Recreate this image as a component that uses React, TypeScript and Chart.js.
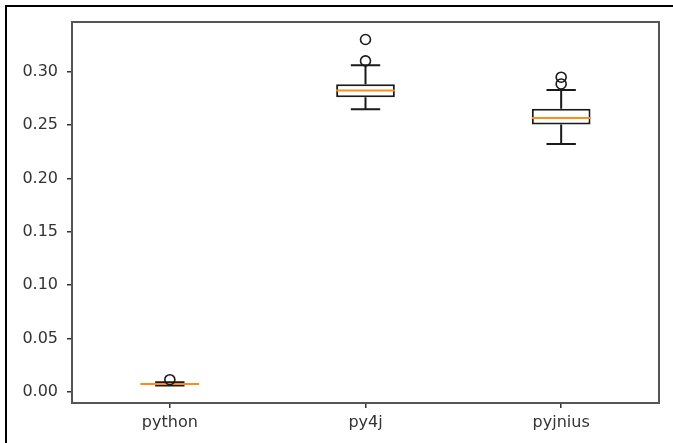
import React, { useEffect, useRef } from "react";
import { Chart, registerables } from "chart.js";

Chart.register(...registerables);

const categories = ["python", "py4j", "pyjnius"];
const q1 = [0.0068, 0.276, 0.2505];
const median = [0.0075, 0.2823, 0.2566];
const q3 = [0.0082, 0.2882, 0.2652];
const whiskerLow = [0.006, 0.2647, 0.2322];
const whiskerHigh = [0.0092, 0.306, 0.2828];
const outlierCat = ["python", "py4j", "py4j", "pyjnius", "pyjnius"];
const outlierVal = [0.0115, 0.33, 0.31, 0.2947, 0.2884];
const yTicks = [0, 0.05, 0.1, 0.15, 0.2, 0.25, 0.3];
const yMin = -0.0103;
const yMax = 0.3464;

const FONT = "'DejaVu Sans', sans-serif";

const boxPlugin = {
  id: "boxDetails",
  afterDatasetDraw(chart: any, args: any) {
    if (args.index !== 1) return;
    const ctx = chart.ctx;
    const x = chart.scales.x;
    const y = chart.scales.y;
    const unit = x.getPixelForValue(1) - x.getPixelForValue(0);
    const capHalf = unit * 0.075;
    const boxHalf = unit * 0.15;
    ctx.save();
    for (let i = 0; i < categories.length; i++) {
      const cx = x.getPixelForValue(i);
      ctx.strokeStyle = "#1a1a1a";
      ctx.lineWidth = 2;
      ctx.beginPath();
      ctx.moveTo(cx, y.getPixelForValue(q3[i]));
      ctx.lineTo(cx, y.getPixelForValue(whiskerHigh[i]));
      ctx.moveTo(cx, y.getPixelForValue(q1[i]));
      ctx.lineTo(cx, y.getPixelForValue(whiskerLow[i]));
      ctx.moveTo(cx - capHalf, y.getPixelForValue(whiskerHigh[i]));
      ctx.lineTo(cx + capHalf, y.getPixelForValue(whiskerHigh[i]));
      ctx.moveTo(cx - capHalf, y.getPixelForValue(whiskerLow[i]));
      ctx.lineTo(cx + capHalf, y.getPixelForValue(whiskerLow[i]));
      ctx.stroke();
      ctx.strokeStyle = "#ff8c1a";
      ctx.lineWidth = 2;
      ctx.beginPath();
      ctx.moveTo(cx - boxHalf, y.getPixelForValue(median[i]));
      ctx.lineTo(cx + boxHalf, y.getPixelForValue(median[i]));
      ctx.stroke();
    }
    ctx.restore();
  },
  afterDraw(chart: any) {
    const ctx = chart.ctx;
    const a = chart.chartArea;
    ctx.save();
    ctx.strokeStyle = "#555";
    ctx.lineWidth = 2;
    ctx.strokeRect(a.left, a.top, a.right - a.left, a.bottom - a.top);
    ctx.fillStyle = "#000";
    ctx.fillRect(5, 5, chart.width, 2);
    ctx.fillRect(5, 5, 2, chart.height);
    ctx.restore();
  },
};

export default function App() {
  const ref = useRef<HTMLCanvasElement>(null);
  useEffect(() => {
    if (!ref.current) return;
    const chart = new Chart(ref.current, {
      type: "bar",
      data: {
        labels: categories,
        datasets: [
          {
            type: "line",
            data: outlierCat.map((c, i) => ({ x: c, y: outlierVal[i] })),
            showLine: false,
            pointStyle: "circle",
            pointRadius: 5,
            pointBorderColor: "#1a1a1a",
            pointBackgroundColor: "rgba(0,0,0,0)",
            pointBorderWidth: 1.6,
          } as any,
          {
            type: "bar",
            data: categories.map((_, i) => [q1[i], q3[i]]),
            backgroundColor: "#fff",
            borderColor: "#1a1a1a",
            borderWidth: 2,
            borderSkipped: false,
            barPercentage: 0.3,
            categoryPercentage: 1,
          } as any,
        ],
      },
      options: {
        responsive: false,
        animation: false,
        layout: { padding: { top: 22, right: 14, left: 0, bottom: 0 } },
        plugins: { legend: { display: false }, tooltip: { enabled: false } },
        scales: {
          x: {
            type: "category",
            offset: true,
            border: { display: false },
            grid: {
              drawOnChartArea: false,
              drawTicks: true,
              tickLength: 5,
              color: "#333",
              lineWidth: 1.5,
              offset: false,
            },
            ticks: { color: "#333", font: { family: FONT, size: 16 }, padding: 5 },
            afterFit(scale: any) {
              scale.height = 40;
            },
          },
          y: {
            type: "linear",
            min: yMin,
            max: yMax,
            border: { display: false },
            grid: { drawOnChartArea: false, drawTicks: true, tickLength: 5, color: "#333", lineWidth: 1.5 },
            ticks: {
              color: "#333",
              font: { family: FONT, size: 16 },
              padding: 9,
              callback: (v: any) => Number(v).toFixed(2),
            },
            afterBuildTicks(scale: any) {
              scale.ticks = yTicks.map((v) => ({ value: v }));
            },
            afterFit(scale: any) {
              scale.width = 72;
            },
          },
        },
      },
      plugins: [boxPlugin],
    });
    return () => chart.destroy();
  }, []);
  return (
    <div style={{ position: "fixed", left: 0, top: 0, width: 673, height: 443, background: "#fff" }}>
      <canvas ref={ref} width={673} height={443} style={{ display: "block" }} />
    </div>
  );
}
